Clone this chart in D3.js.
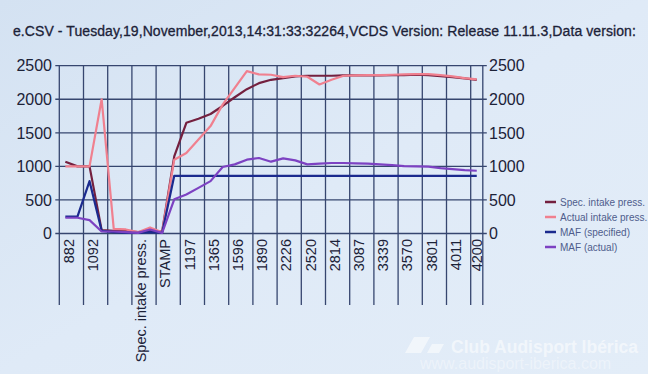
<!DOCTYPE html>
<html>
<head>
    <meta charset="utf-8">
    <title>VCDS log</title>
    <script src="https://cdn.jsdelivr.net/npm/d3@7"></script>
    <style>
        html,
        body {
            margin: 0;
            padding: 0;
            background-color: #dce8f5;
            font-family: "Liberation Sans", Arial, Helvetica, sans-serif;
        }

        svg text {
            fill: #1c2238;
        }

        svg .grid line {
            stroke: #36466f;
            stroke-width: 1.3;
        }

        svg .series {
            fill: none;
            stroke-width: 2.2;
            stroke-linejoin: round;
        }

        svg .legend text {
            fill: #4f5d8c;
            font-size: 10px;
        }
    </style>
</head>
<body>
    <svg></svg>

    <script>
        // category labels, one per logged row (blank where Excel skipped the label)
        var categories = ['882', '', '1092', '', '', '', 'Spec. intake press.', '', 'STAMP', '',
                          '1197', '', '1365', '', '1596', '', '1890', '', '2226', '',
                          '2520', '', '2814', '', '3087', '', '3339', '', '3570', '',
                          '3801', '', '4011', '', '4200'];

        var specIntake   = [1070, 1000, 1000, 50, 40, 40, 20, 40, 30, 1150,
                            1650, 1710, 1780, 1900, 2030, 2150, 2240, 2290, 2315, 2340,
                            2350, 2350, 2350, 2355, 2355, 2355, 2355, 2360, 2360, 2365,
                            2360, 2345, 2330, 2310, 2290];

        var actualIntake = [1000, 1000, 1000, 2000, 70, 60, 20, 90, 20, 1100,
                            1200, 1400, 1600, 1920, 2170, 2420, 2370, 2365, 2330, 2350,
                            2335, 2220, 2290, 2350, 2355, 2360, 2360, 2365, 2370, 2375,
                            2375, 2360, 2340, 2315, 2295];

        var mafSpec      = [250, 250, 780, 40, 20, 10, 10, 20, 10, 860,
                            860, 860, 860, 860, 860, 860, 860, 860, 860, 860,
                            860, 860, 860, 860, 860, 860, 860, 860, 860, 860,
                            860, 860, 860, 860, 860];

        var mafActual    = [235, 235, 200, 30, 30, 20, 10, 60, 10, 510,
                            580, 680, 780, 990, 1030, 1100, 1125, 1070, 1120, 1090,
                            1030, 1040, 1050, 1050, 1045, 1040, 1030, 1020, 1005, 1000,
                            995, 975, 960, 945, 935];

        var seriesNames  = ['Spec. intake press.', 'Actual intake press.', 'MAF (specified)', 'MAF (actual)'];
        var seriesColors = ['#74203f', '#f0808f', '#1b2a8e', '#7d42c2'];
        var yTicks       = [0, 500, 1000, 1500, 2000, 2500];

        var title = 'e.CSV - Tuesday,19,November,2013,14:31:33:32264,VCDS Version: Release 11.11.3,Data version:';

        (function () {
            var w = 648,
                h = 374,
                left = 59.3,
                right = 482.8,
                top = 65.7,
                bottom = 233.5,
                step = 2;   // tick / label interval, in categories

            var svg = d3.select('svg')
                    .attr('width', w)
                    .attr('height', h)
                    .attr('viewBox', '0 0 ' + w + ' ' + h);

            var defs = svg.append('defs');
            var bg = defs.append('linearGradient')
                    .attr('id', 'bg')
                    .attr('x1', 0).attr('y1', 0).attr('x2', 1).attr('y2', 1);
            bg.append('stop').attr('offset', 0).attr('stop-color', '#d4e2f2');
            bg.append('stop').attr('offset', 0.5).attr('stop-color', '#dfeaf7');
            bg.append('stop').attr('offset', 1).attr('stop-color', '#e3edf8');

            svg.append('rect')
                .attr('width', w)
                .attr('height', h)
                .style('fill', 'url(#bg)');

            var idx = d3.range(categories.length);

            var x = d3.scaleBand()
                    .domain(idx)
                    .range([left, right])
                    .padding(0);

            var y = d3.scaleLinear()
                    .domain([0, 2500])
                    .range([bottom, top]);

            var bw = x.bandwidth();

            function cx(i) {
                return x(i) + bw / 2;
            }

            // title
            svg.append('text')
                .attr('x', 13)
                .attr('y', 36)
                .style('font-size', '14px')
                .style('letter-spacing', '0.08px')
                .style('stroke', '#1c2238')
                .style('stroke-width', 0.3)
                .text(title);

            // horizontal grid lines
            var grid = svg.append('g').attr('class', 'grid');

            grid.selectAll('line.h')
                .data(yTicks)
                .enter().append('line')
                .attr('class', 'h')
                .attr('x1', left - 4)
                .attr('x2', right + 4)
                .attr('y1', function (d) { return y(d); })
                .attr('y2', function (d) { return y(d); });

            // vertical grid lines, continued below the axis as label dividers
            var vPos = idx.filter(function (i) { return i % step === 0; })
                    .map(function (i) { return x(i); });
            vPos.push(right);

            grid.selectAll('line.v')
                .data(vPos)
                .enter().append('line')
                .attr('class', 'v')
                .attr('x1', function (d) { return d; })
                .attr('x2', function (d) { return d; })
                .attr('y1', top)
                .attr('y2', 305);

            // y axis labels, left and right
            svg.append('g').selectAll('text')
                .data(yTicks)
                .enter().append('text')
                .attr('x', 52)
                .attr('y', function (d) { return y(d); })
                .attr('dy', '0.36em')
                .attr('text-anchor', 'end')
                .style('font-size', '16px')
                .text(function (d) { return d; });

            svg.append('g').selectAll('text')
                .data(yTicks)
                .enter().append('text')
                .attr('x', 489)
                .attr('y', function (d) { return y(d); })
                .attr('dy', '0.36em')
                .style('font-size', '16px')
                .text(function (d) { return d; });

            // category labels, rotated
            var labelled = idx.filter(function (i) { return i % step === 0 && categories[i]; });

            svg.append('g').selectAll('text')
                .data(labelled)
                .enter().append('text')
                .attr('transform', function (i) {
                    var end = Math.min(i + step, categories.length),
                        mid = (x(i) + x(end - 1) + bw) / 2 - (end - i === step ? 3 : 0);
                    return 'translate(' + mid + ',239)rotate(-90)';
                })
                .attr('dy', '0.36em')
                .attr('text-anchor', 'end')
                .style('font-size', '14.5px')
                .text(function (i) { return categories[i]; });

            // the four series
            var line = d3.line()
                    .x(function (d, i) { return cx(i); })
                    .y(function (d) { return y(d); });

            var series = [specIntake, actualIntake, mafSpec, mafActual];

            svg.append('g').selectAll('path')
                .data(series)
                .enter().append('path')
                .attr('class', 'series')
                .attr('d', line)
                .style('stroke', function (d, i) { return seriesColors[i]; });

            // legend
            var lg = svg.append('g')
                    .attr('class', 'legend')
                    .attr('transform', 'translate(545,202)');

            var item = lg.selectAll('g')
                    .data(seriesNames)
                    .enter().append('g')
                    .attr('transform', function (d, i) { return 'translate(0,' + (i * 15) + ')'; });

            item.append('line')
                .attr('x1', 0)
                .attr('x2', 11)
                .style('stroke', function (d, i) { return seriesColors[i]; })
                .style('stroke-width', 2.5);

            item.append('text')
                .attr('x', 15)
                .attr('dy', '0.35em')
                .text(function (d) { return d; });

            // watermark of the photo
            var wm = svg.append('g').style('opacity', 0.55);

            wm.append('path')
                .attr('d', 'M405,353 L414,337 L430,337 L421,353 Z')
                .style('fill', '#ffffff');
            wm.append('path')
                .attr('d', 'M427,353 L432,344 L444,344 L439,353 Z')
                .style('fill', '#ffffff');

            wm.append('text')
                .attr('x', 451)
                .attr('y', 353)
                .style('font-size', '17.5px')
                .style('font-weight', 'bold')
                .style('fill', '#ffffff')
                .text('Club Audisport Ibérica');

            wm.append('text')
                .attr('x', 420)
                .attr('y', 369)
                .style('font-size', '16px')
                .style('fill', '#ffffff')
                .style('opacity', 0.7)
                .text('www.audisport-iberica.com');
        })();
    </script>
</body>
</html>
